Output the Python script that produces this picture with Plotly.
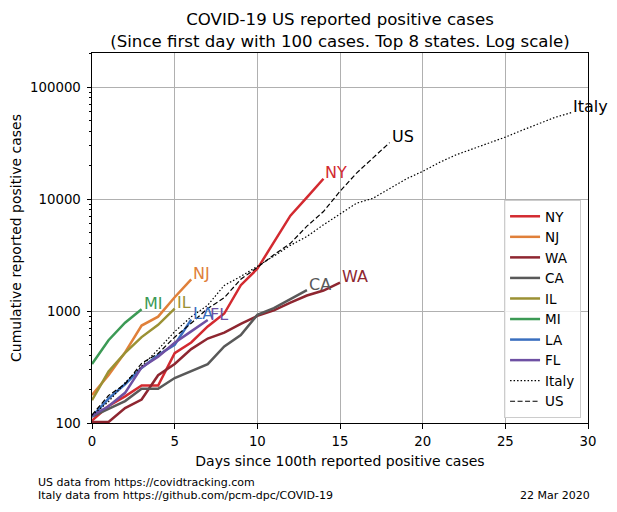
import math
import plotly.graph_objects as go

# cumulative positive cases, index = days since the 100th case
states = ['NY', 'NJ', 'WA', 'CA', 'IL', 'MI', 'LA', 'FL']
ny = [105, 142, 173, 216, 216, 421, 524, 729, 950, 1700, 2382, 4152, 7102, 10356, 15168]
nj = [178, 267, 427, 742, 890, 1327, 1914]
wa = [102, 102, 136, 162, 267, 337, 457, 568, 642, 769, 904, 1012, 1187, 1376, 1524, 1793]
ca = [114, 133, 157, 202, 202, 252, 293, 335, 483, 611, 924, 1063, 1279, 1536]
il = [160, 288, 422, 585, 753, 1049]
mi = [336, 549, 787, 1035]
la = [114, 165, 222, 310, 405, 500, 837]
fl = [116, 141, 186, 314, 390, 520, 658, 830]
italy = [117, 155, 229, 322, 453, 655, 888, 1128, 1694, 2036, 2502, 3089, 3858, 4636,
         5883, 7375, 9172, 10149, 12462, 15113, 17660, 21157, 24747, 27980, 31506,
         35713, 41035, 47021, 53578, 59138]
us = [118, 176, 223, 341, 417, 584, 778, 1053, 1315, 1922, 2450, 3173, 4019, 5723,
      7730, 11723, 17038, 23203, 31888]

state_data = [ny, nj, wa, ca, il, mi, la, fl]
state_colors = ['#d32a30', '#e0803a', '#8e2630', '#595959', '#9b9134', '#3c9a55', '#3a6fbf', '#6e50a3']

fig = go.Figure()
annots = []


def end_label(name, vals, col):
    # label sits just right of / above the last point (log axis -> log10 y)
    return dict(x=len(vals) - 1, y=math.log10(vals[-1]), text=name, xanchor='left',
                yanchor='middle', yshift=6, showarrow=False, font=dict(size=16, color=col))


for name, vals, col in zip(states, state_data, state_colors):
    fig.add_trace(go.Scatter(x=list(range(len(vals))), y=vals, mode='lines', name=name,
                             line=dict(color=col, width=2.5)))
    annots.append(end_label(name, vals, col))

fig.add_trace(go.Scatter(x=list(range(len(italy))), y=italy, mode='lines', name='Italy',
                         line=dict(color='black', width=1.2, dash='1.5px,2px')))
annots.append(end_label('Italy', italy, 'black'))
fig.add_trace(go.Scatter(x=list(range(len(us))), y=us, mode='lines', name='US',
                         line=dict(color='black', width=1.2, dash='5px,2.5px')))
annots.append(end_label('US', us, 'black'))

foot = dict(size=11, color='black')
annots.append(dict(xref='paper', yref='paper', x=0, y=0, xshift=-56, yshift=-59,
                   xanchor='left', yanchor='middle', showarrow=False, font=foot,
                   text='US data from https://covidtracking.com'))
annots.append(dict(xref='paper', yref='paper', x=0, y=0, xshift=-56, yshift=-72,
                   xanchor='left', yanchor='middle', showarrow=False, font=foot,
                   text='Italy data from https://github.com/pcm-dpc/COVID-19'))
annots.append(dict(xref='paper', yref='paper', x=1, y=0, xshift=4, yshift=-72,
                   xanchor='right', yanchor='middle', showarrow=False, font=foot,
                   text='22 Mar 2020'))

fig.update_layout(
    width=617, height=512,
    margin=dict(l=84, r=37, t=45, b=97),
    paper_bgcolor='white', plot_bgcolor='white',
    font=dict(family='DejaVu Sans', color='black'),
    title=dict(text='COVID-19 US reported positive cases<br>(Since first day with 100 cases. Top 8 states. Log scale)',
               x=0.5, xref='paper', xanchor='center', y=1 - 17 / 512, yref='container', yanchor='middle',
               font=dict(size=16.6)),
    legend=dict(x=0.986, y=0.0135, xanchor='right', yanchor='bottom',
                bgcolor='rgba(255,255,255,0.8)', bordercolor='#cccccc', borderwidth=1,
                font=dict(size=13.5)),
    annotations=annots,
)

fig.update_xaxes(range=[0, 30], dtick=5, showgrid=True, gridcolor='#b0b0b0', gridwidth=1,
                 showline=True, linecolor='black', linewidth=1, mirror=True, automargin=False,
                 ticks='outside', ticklen=4.5, tickcolor='black', zeroline=False,
                 tickfont=dict(size=13.3), ticklabelstandoff=2,
                 title=dict(text='Days since 100th reported positive cases', font=dict(size=14), standoff=7))
fig.update_yaxes(type='log', range=[2, 5.304], dtick=1, tickformat='d', showgrid=True,
                 gridcolor='#b0b0b0', gridwidth=1,
                 showline=True, linecolor='black', linewidth=1, mirror=True, automargin=False,
                 ticks='outside', ticklen=4.5, tickcolor='black', zeroline=False,
                 tickfont=dict(size=13.3), ticklabelstandoff=3,
                 minor=dict(ticks='outside', ticklen=2.5, tickcolor='black', showgrid=False),
                 title=dict(text='Cumulative reported positive cases', font=dict(size=14), standoff=9))

fig.write_html('out.html')
